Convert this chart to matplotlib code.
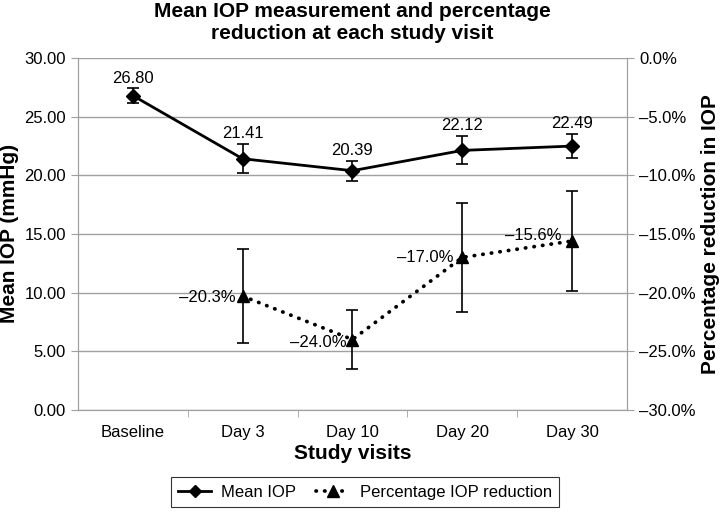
import numpy as np
import matplotlib.pyplot as plt
from matplotlib.ticker import FuncFormatter, FixedLocator
from matplotlib.lines import Line2D

plt.rcParams['font.family'] = ['Liberation Sans', 'DejaVu Sans']

visits = ['Baseline', 'Day 3', 'Day 10', 'Day 20', 'Day 30']
mean_iop = [26.80, 21.41, 20.39, 22.12, 22.49]
mean_err = [0.6, 1.25, 0.85, 1.2, 1.05]
pct_visits = ['Day 3', 'Day 10', 'Day 20', 'Day 30']
pct_red = [-20.3, -24.0, -17.0, -15.6]
pct_err = [4.0, 2.55, 4.65, 4.3]

x = np.arange(len(visits))
xp = np.array([visits.index(v) for v in pct_visits])
grey = '#a0a0a0'
dots = (0, (0.1, 2.2))

fig = plt.figure(figsize=(7.2, 5.13), dpi=100)
ax = fig.add_axes([0.108, 0.201, 0.763, 0.686])
ax2 = ax.twinx()

# mean IOP
ax.errorbar(x, mean_iop, yerr=mean_err, color='black', lw=2, marker='D', ms=7,
            ecolor='black', elinewidth=1.2, capsize=4, capthick=1.2, zorder=3)
# labels sit just above the error bar caps
for xi, v, e in zip(x, mean_iop, mean_err):
    ax.annotate(f'{v:.2f}', (xi, v + e), xytext=(0, 7.5), textcoords='offset points',
                ha='center', va='center', fontsize=12)

# percentage reduction
ax2.errorbar(xp, pct_red, yerr=pct_err, color='black', lw=2.7, marker='^', ms=9,
             ls=dots, dash_capstyle='round',
             ecolor='black', elinewidth=1.2, capsize=4, capthick=1.2, zorder=3)
offs = [(-5, -1), (-4, -2), (-6, 0), (-8, 4)]
for xi, v, o in zip(xp, pct_red, offs):
    ax2.annotate(f'\u2013{abs(v):.1f}%', (xi, v), xytext=o, textcoords='offset points',
                 ha='right', va='center', fontsize=12)

ax.set_xlim(-0.5, len(visits) - 0.5)
ax.set_ylim(0, 30)
ax.set_yticks(np.arange(0, 31, 5))
ax.yaxis.set_major_formatter(FuncFormatter(lambda v, p: f'{v:.2f}'))
ax2.set_ylim(-30, 0)
ax2.set_yticks(np.arange(-30, 1, 5))
ax2.yaxis.set_major_formatter(FuncFormatter(
    lambda v, p: '0.0%' if v == 0 else f'\u2013{abs(v):.1f}%'))

ax.set_xticks(x)
ax.set_xticklabels(visits)
ax.tick_params(axis='x', length=0, labelsize=12, pad=11)
ax.xaxis.set_minor_locator(FixedLocator(np.arange(0.5, len(visits) - 1, 1)))
ax.tick_params(axis='x', which='minor', length=5, color=grey, direction='out')
ax.tick_params(axis='y', labelsize=12, length=5, color=grey)
ax2.tick_params(axis='y', labelsize=12, length=5, color=grey)

ax.grid(axis='y', color=grey, lw=1)
ax.set_axisbelow(True)
for a in (ax, ax2):
    a.spines['top'].set_visible(False)
    for s in ('left', 'right', 'bottom'):
        a.spines[s].set_color(grey)

ax.set_xlabel('Study visits', fontsize=15, fontweight='bold', labelpad=3)
ax.set_ylabel('Mean IOP (mmHg)', fontsize=15, fontweight='bold')
ax2.set_ylabel('Percentage reduction in IOP', fontsize=15, fontweight='bold', labelpad=4)
ax.set_title('Mean IOP measurement and percentage\nreduction at each study visit',
             fontsize=15, fontweight='bold', pad=14, linespacing=1.15)

handles = [
    Line2D([], [], color='black', lw=2, marker='D', ms=6),
    Line2D([], [], color='black', lw=2.7, marker='^', ms=8, ls=dots,
           dash_capstyle='round'),
]
leg = fig.legend(handles, ['Mean IOP', 'Percentage IOP reduction'], loc='lower center',
                 bbox_to_anchor=(0.507, -0.005), ncol=2, frameon=True, fancybox=False,
                 fontsize=12, edgecolor='black', handlelength=2.0, handletextpad=0.6,
                 columnspacing=1.2, borderpad=0.45)
leg.get_frame().set_linewidth(0.8)

fig.savefig('out.png', dpi=100)
